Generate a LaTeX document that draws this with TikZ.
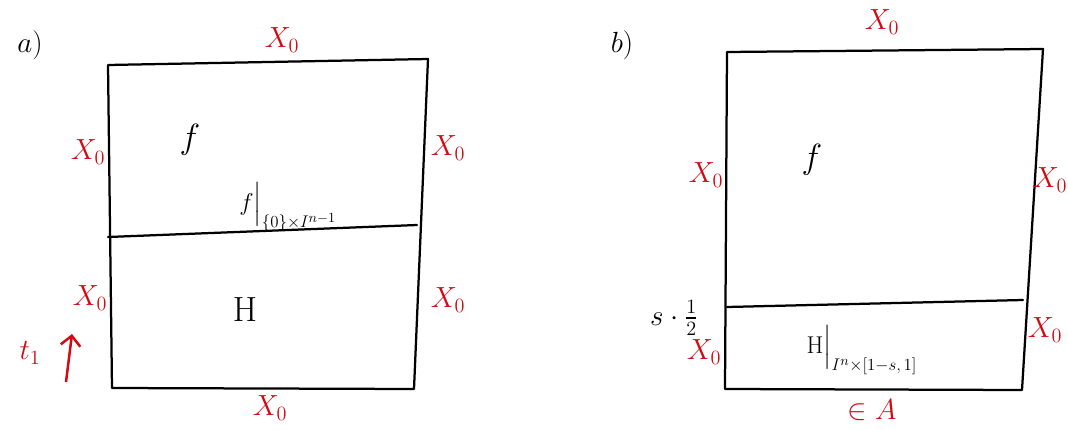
\documentclass[tikz,border=0pt]{standalone}
\usepackage{amsmath, amssymb}
\usepackage{xcolor}
\definecolor{penred}{RGB}{210,10,20}
\usepackage{tikz}
\usetikzlibrary{arrows.meta,positioning,calc}
\tikzset{
  edge/.style={line width=1.6pt, black, line cap=round, line join=round},
  redlbl/.style={text=penred, font=\huge, inner sep=1pt},
  bigsym/.style={font=\fontsize{38}{40}\selectfont, inner sep=0pt},
  partlbl/.style={font=\huge, inner sep=0pt},
  restr/.style={font=\LARGE, inner sep=0pt},
}
\begin{document}
\begin{tikzpicture}[x=0.025cm, y=-0.025cm]
  \useasboundingbox (0,0) rectangle (1068,429);
  % left box corners
  \coordinate (aTL) at (108,65);  \coordinate (aTR) at (428,59);
  \coordinate (aBL) at (112,388); \coordinate (aBR) at (414,389);
  \coordinate (aML) at (108,237); \coordinate (aMR) at (417,225);
  \draw[edge] (aTL) -- (aTR) -- (aBR) -- (aBL) -- (aTL);
  \draw[edge] (aML) -- (aMR);
  \node[partlbl] (lblA) at (30,45) {$a)$};
  \node[redlbl] (aTop) at (282,40) {$X_0$};
  \node[redlbl] (aLup) at (88,152) {$X_0$};
  \node[redlbl] (aRup) at (448,148) {$X_0$};
  \node[redlbl] (aLlo) at (90,298) {$X_0$};
  \node[redlbl] (aRlo) at (448,300) {$X_0$};
  \node[redlbl] (aBot) at (270,408) {$X_0$};
  \node[bigsym] (aF) at (190,140) {$f$};
  \node[bigsym] (aH) at (245,310) {$\mathrm{H}$};
  \node[restr] (aRes) at (288,207) {$f\Big|_{\{0\}\times I^{n-1}}$};
  \node[redlbl] (aT) at (30,353) {$t_1$};
  \coordinate (aArS) at (66,382);
  \coordinate (aArE) at (72,334);
  \draw[line width=1.8pt, penred, -{Straight Barb[length=7pt]}] (aArS) -- (aArE);
  % right box corners
  \coordinate (bTL) at (727,52);  \coordinate (bTR) at (1043,49);
  \coordinate (bBL) at (725,389); \coordinate (bBR) at (1022,390);
  \coordinate (bML) at (727,307); \coordinate (bMR) at (1023,300);
  \draw[edge] (bTL) -- (bTR) -- (bBR) -- (bBL) -- (bTL);
  \draw[edge] (bML) -- (bMR);
  \node[partlbl] (lblB) at (622,45) {$b)$};
  \node[redlbl] (bTop) at (882,22) {$X_0$};
  \node[redlbl] (bLup) at (706,175) {$X_0$};
  \node[redlbl] (bRup) at (1050,180) {$X_0$};
  \node[redlbl] (bLlo) at (704,352) {$X_0$};
  \node[redlbl] (bRlo) at (1045,330) {$X_0$};
  \node[redlbl] (bBot) at (872,410) {$\in A$};
  \node[bigsym] (bF) at (812,160) {$f$};
  \node[font=\huge, inner sep=0pt] (bS) at (674,318) {$s\cdot\frac{1}{2}$};
  \node[restr] (bRes) at (862,350) {$\mathrm{H}\Big|_{I^n\times[1-s,\,1]}$};
\end{tikzpicture}
\end{document}
